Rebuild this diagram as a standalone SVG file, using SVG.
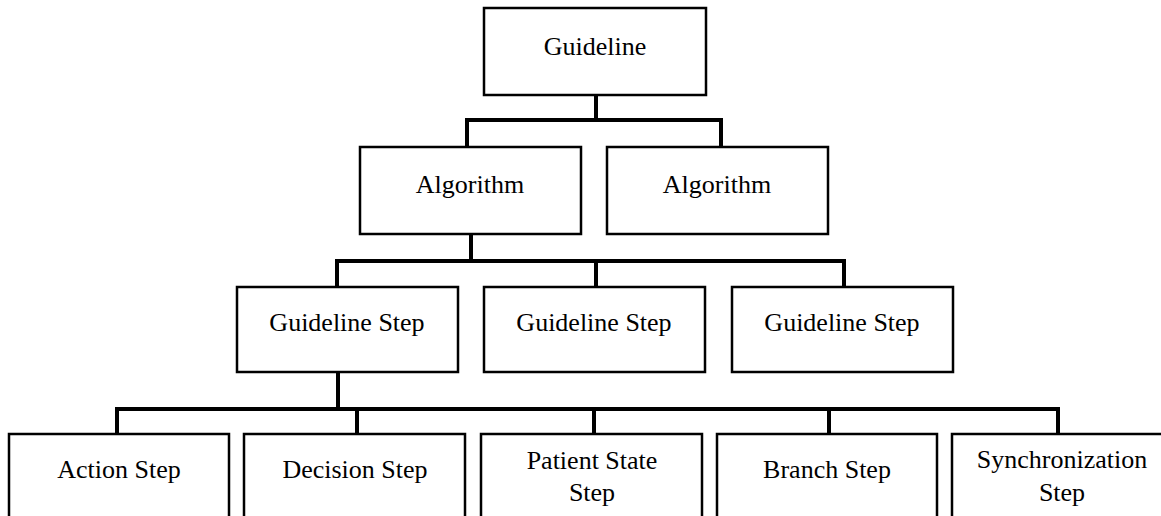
<svg xmlns="http://www.w3.org/2000/svg" width="1161" height="516" viewBox="0 0 1161 516">
  <style>
    .box { fill: #ffffff; stroke: #000000; stroke-width: 2.5; }
    .lbl { font-family: "Liberation Serif", "Times New Roman", serif; font-size: 26px; fill: #000000; text-anchor: middle; }
    .wire { fill: none; stroke: #000000; stroke-width: 4; stroke-linejoin: miter; stroke-linecap: square; }
  </style>
  <rect width="1161" height="516" fill="#ffffff"/>

  <!-- connectors -->
  <g id="connectors">
    <path class="wire" d="M596,95 V120 M467,147 V120 H721 V147"/>
    <path class="wire" d="M471,234 V261 M337,287 V261 H844 V287 M596,261 V287"/>
    <path class="wire" d="M338,372 V409 M117,434 V409 H1058 V434 M357,409 V434 M594,409 V434 M829,409 V434"/>
  </g>

  <!-- level 0 -->
  <g id="guideline">
    <rect class="box" x="484" y="8" width="222" height="87"/>
    <text class="lbl" x="595" y="55">Guideline</text>
  </g>

  <!-- level 1 -->
  <g id="algorithm-1">
    <rect class="box" x="360" y="147" width="221" height="87"/>
    <text class="lbl" x="470" y="193">Algorithm</text>
  </g>
  <g id="algorithm-2">
    <rect class="box" x="607" y="147" width="221" height="87"/>
    <text class="lbl" x="717" y="193">Algorithm</text>
  </g>

  <!-- level 2 -->
  <g id="guideline-step-1">
    <rect class="box" x="237" y="287" width="221" height="85"/>
    <text class="lbl" x="347" y="331">Guideline Step</text>
  </g>
  <g id="guideline-step-2">
    <rect class="box" x="484" y="287" width="221" height="85"/>
    <text class="lbl" x="594" y="331">Guideline Step</text>
  </g>
  <g id="guideline-step-3">
    <rect class="box" x="732" y="287" width="221" height="85"/>
    <text class="lbl" x="842" y="331">Guideline Step</text>
  </g>

  <!-- level 3 -->
  <g id="action-step">
    <rect class="box" x="9" y="434" width="220" height="100"/>
    <text class="lbl" x="119" y="478">Action Step</text>
  </g>
  <g id="decision-step">
    <rect class="box" x="244" y="434" width="221" height="100"/>
    <text class="lbl" x="355" y="478">Decision Step</text>
  </g>
  <g id="patient-state-step">
    <rect class="box" x="481" y="434" width="221" height="100"/>
    <text class="lbl" x="592" y="469">Patient State</text>
    <text class="lbl" x="592" y="501">Step</text>
  </g>
  <g id="branch-step">
    <rect class="box" x="717" y="434" width="220" height="100"/>
    <text class="lbl" x="827" y="478">Branch Step</text>
  </g>
  <g id="synchronization-step">
    <rect class="box" x="952" y="434" width="221" height="100"/>
    <text class="lbl" x="1062" y="468">Synchronization</text>
    <text class="lbl" x="1062" y="501">Step</text>
  </g>
</svg>
